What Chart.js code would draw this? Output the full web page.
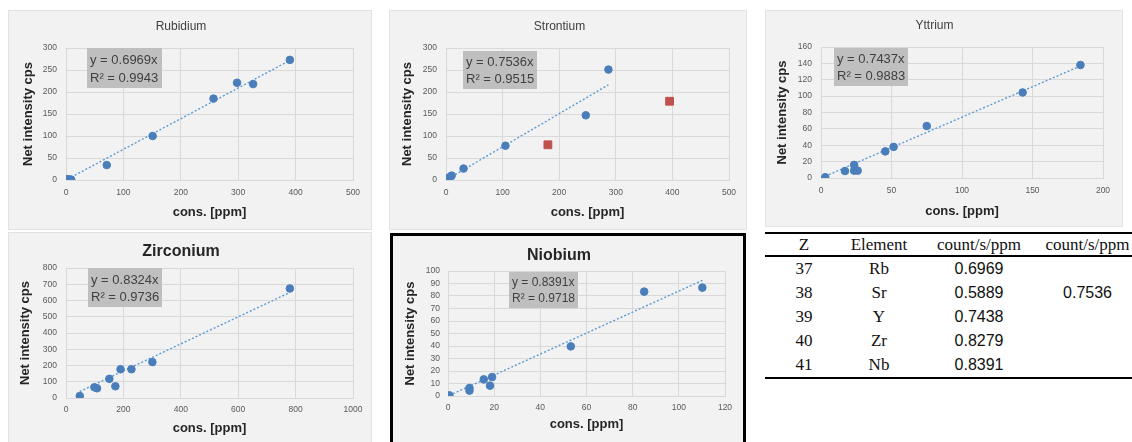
<!DOCTYPE html>
<html>
<head>
<meta charset="utf-8">
<script src="https://cdn.jsdelivr.net/npm/chart.js@4.4.0/dist/chart.umd.min.js"></script>
<style>
  body { margin: 0; background: #fff; width: 1132px; height: 442px; overflow: hidden; position: relative; }
  .panel { position: absolute; background: #f2f2f2; border: 1px solid #e2e2e2; box-sizing: border-box; }
  .panel.boxed { border: 3px solid #000; }
  .panel canvas { display: block; }
  table.coef { position: absolute; left: 765px; top: 232px; width: 367px; border-collapse: collapse;
    border-top: 2px solid #000; border-bottom: 2px solid #000;
    font-family: "Liberation Serif", "Times New Roman", serif; font-size: 17px; color: #111; table-layout: fixed; }
  table.coef th { font-weight: normal; height: 21px; padding: 0; border-bottom: 2px solid #000; }
  table.coef td { height: 24px; padding: 0; text-align: center; }
  table.coef td.num { font-family: "Liberation Sans", Arial, sans-serif; font-size: 16px; }
</style>
</head>
<body>

<div class="panel" id="pRb" style="left:8px;top:10px;width:364px;height:220px"><canvas id="cRb"></canvas></div>
<div class="panel" id="pSr" style="left:389px;top:10px;width:358px;height:220px"><canvas id="cSr"></canvas></div>
<div class="panel" id="pY" style="left:765px;top:10px;width:358px;height:217px"><canvas id="cY"></canvas></div>
<div class="panel" id="pZr" style="left:8px;top:232px;width:364px;height:212px"><canvas id="cZr"></canvas></div>
<div class="panel boxed" id="pNb" style="left:390px;top:233px;width:356px;height:214px"><canvas id="cNb"></canvas></div>

<table class="coef" id="coefTable">
  <colgroup><col style="width:78px"><col style="width:72px"><col style="width:128px"><col style="width:89px"></colgroup>
  <thead><tr><th>Z</th><th>Element</th><th>count/s/ppm</th><th>count/s/ppm</th></tr></thead>
  <tbody></tbody>
</table>

<script>
// calibration data
var rbX = [2, 6, 9, 71, 151, 257, 298, 326, 390];
var rbY = [2, 1, 1, 34, 100, 185, 221, 218, 273];
var rbTrend = [[3, 2.1], [390, 271.8]];

var srX = [2, 5, 8, 10, 31, 105, 247, 287];
var srY = [3, 5, 8, 10, 26, 78, 147, 251];
var srOutX = [180, 395];
var srOutY = [80, 179];
var srTrend = [[4, 3.0], [287, 216.3]];

var yX = [3, 17, 23.5, 23.5, 26, 45.6, 51.5, 75, 143, 184];
var yY = [1, 8.5, 16, 9, 9, 32.5, 38, 63.5, 104.5, 138];
var yTrend = [[3, 2.2], [184, 136.8]];

var zrX = [48, 99, 108, 151, 172, 190, 228, 301, 780];
var zrY = [12, 66, 60, 118, 72, 177, 177, 221, 674];
var zrTrend = [[48, 40], [780, 649.3]];

var nbX = [0.6, 9.3, 9.3, 15.5, 18.2, 19.1, 53.2, 85, 110.2];
var nbY = [0.5, 6.4, 4.3, 13.3, 8.3, 15.2, 39.7, 83.5, 86.7];
var nbTrend = [[0.6, 0.5], [110.2, 92.5]];

// fit labels shown on the charts
var eqSlopes = ['0.6969', '0.7536', '0.7437', '0.8324', '0.8391'];
var eqR2 = ['0.9943', '0.9515', '0.9883', '0.9736', '0.9718'];

// table
var tblZ = [37, 38, 39, 40, 41];
var tblElement = ['Rb', 'Sr', 'Y', 'Zr', 'Nb'];
var tblCoef = ['0.6969', '0.5889', '0.7438', '0.8279', '0.8391'];
var tblCoef2 = ['', '0.7536', '', '', ''];

var SANS = '"Liberation Sans", Arial, sans-serif';
var BLUE = '#4a7ebb';
var TREND = '#5b9bd5';

function toPts(xs, ys) {
    return xs.map(function (x, i) { return { x: x, y: ys[i] }; });
}
function plainTick(v) { return String(v); }

// draws the grey equation box, offsets relative to the chart area
var eqBoxPlugin = {
    id: 'eqBox',
    beforeDatasetsDraw: function (chart, args, opts) {
        if (!opts || !opts.lines) return;
        var ctx = chart.ctx;
        var a = chart.chartArea;
        var x = a.left + opts.dx, y = a.top + opts.dy;
        ctx.save();
        ctx.fillStyle = '#bfbfbf';
        ctx.fillRect(x, y, opts.w, opts.h);
        ctx.fillStyle = '#404040';
        ctx.font = opts.size + 'px ' + SANS;
        ctx.textBaseline = 'middle';
        ctx.fillText(opts.lines[0], x + 3, y + opts.h * 0.31);
        ctx.fillText(opts.lines[1], x + 3, y + opts.h * 0.75);
        ctx.restore();
    }
};

function makeChart(id, g, datasets, xr, yr, eq) {
    var panel = document.getElementById('p' + id);
    var bw = panel.classList.contains('boxed') ? 3 : 1;
    var cx = panel.offsetLeft + bw, cy = panel.offsetTop + bw;
    var cw = panel.clientWidth, ch = panel.clientHeight;
    var canvas = document.getElementById('c' + id);
    canvas.width = cw; canvas.height = ch;

    var tLh = g.titleSize * 1.2;
    var axLh = 13 * 1.2;
    var tickLh = 8.5 * 1.2;
    var xH = g.xTitleY - g.b + axLh / 2;

    return new Chart(canvas, {
        type: 'scatter',
        data: { datasets: datasets },
        plugins: [eqBoxPlugin],
        options: {
            responsive: false,
            animation: false,
            layout: { padding: { left: 0, top: 0, right: cx + cw - g.r, bottom: cy + ch - g.b - xH } },
            scales: {
                x: {
                    type: 'linear', min: xr[0], max: xr[1],
                    ticks: { stepSize: xr[2], autoSkip: false, maxRotation: 0, callback: plainTick, color: '#595959',
                        font: { family: SANS, size: 8.5 }, padding: g.xTickY - g.b - tickLh / 2 },
                    grid: { color: '#d9d9d9', drawTicks: false },
                    border: { color: '#d9d9d9' },
                    title: { display: true, text: 'cons. [ppm]', color: '#262626', font: { family: SANS, size: 13, weight: 'bold' }, padding: 0 },
                    afterFit: function (s) { s.height = xH; }
                },
                y: {
                    type: 'linear', min: yr[0], max: yr[1],
                    ticks: { stepSize: yr[2], autoSkip: false, callback: plainTick, color: '#595959',
                        font: { family: SANS, size: 8.5 }, padding: g.l - g.yTickRight },
                    grid: { color: '#d9d9d9', drawTicks: false },
                    border: { display: false },
                    title: { display: true, text: 'Net intensity cps', color: '#262626', font: { family: SANS, size: 13, weight: 'bold' },
                        padding: { top: g.yTitleX - cx - axLh / 2, bottom: 0 } },
                    afterFit: function (s) { s.width = g.l - cx; }
                }
            },
            plugins: {
                legend: { display: false },
                tooltip: { enabled: false },
                title: {
                    display: true, text: g.title, color: g.titleBold ? '#262626' : '#404040',
                    font: { family: SANS, size: g.titleSize, weight: g.titleBold ? 'bold' : 'normal' },
                    padding: { top: g.titleY - cy - tLh / 2, bottom: g.t - g.titleY - tLh / 2 }
                },
                eqBox: eq
            }
        }
    });
}

function pointSet(xs, ys) {
    return { data: toPts(xs, ys), backgroundColor: BLUE, borderColor: BLUE, pointRadius: 3.8, pointHoverRadius: 3.8 };
}
function trendSet(t) {
    return {
        type: 'line', data: t.map(function (p) { return { x: p[0], y: p[1] }; }),
        borderColor: TREND, borderWidth: 1.4, borderDash: [2, 2], pointRadius: 0, fill: false
    };
}
function eqOpts(i, dx, dy, w, h, size) {
    return { lines: ['y = ' + eqSlopes[i] + 'x', 'R\u00b2 = ' + eqR2[i]], dx: dx, dy: dy, w: w, h: h, size: size };
}

document.addEventListener('DOMContentLoaded', function () {
    makeChart('Rb',
        { title: 'Rubidium', titleSize: 12, titleBold: false, l: 66, r: 353, t: 48, b: 180, titleY: 27, xTickY: 193, xTitleY: 212, yTitleX: 28, yTickRight: 57 },
        [pointSet(rbX, rbY), trendSet(rbTrend)], [0, 500, 100], [0, 300, 50], eqOpts(0, 21, 0, 75, 40, 13));

    var srOut = { data: toPts(srOutX, srOutY), backgroundColor: '#c0504d', borderColor: '#c0504d', pointStyle: 'rect', pointRadius: 5.5 };
    makeChart('Sr',
        { title: 'Strontium', titleSize: 12, titleBold: false, l: 446, r: 729, t: 48, b: 180, titleY: 27, xTickY: 193, xTitleY: 212, yTitleX: 407, yTickRight: 437 },
        [pointSet(srX, srY), srOut, trendSet(srTrend)], [0, 500, 100], [0, 300, 50], eqOpts(1, 17, 3, 74, 38, 13));

    makeChart('Y',
        { title: 'Yttrium', titleSize: 12, titleBold: false, l: 821, r: 1103, t: 47, b: 178, titleY: 26, xTickY: 191, xTitleY: 211, yTitleX: 782, yTickRight: 812 },
        [pointSet(yX, yY), trendSet(yTrend)], [0, 200, 50], [0, 160, 20], eqOpts(2, 13, 1, 74, 38, 13));

    makeChart('Zr',
        { title: 'Zirconium', titleSize: 16, titleBold: true, l: 66, r: 353, t: 268, b: 398, titleY: 252, xTickY: 410, xTitleY: 428, yTitleX: 25, yTickRight: 57 },
        [pointSet(zrX, zrY), trendSet(zrTrend)], [0, 1000, 200], [0, 800, 100], eqOpts(3, 22, 0, 74, 39, 13));

    makeChart('Nb',
        { title: 'Niobium', titleSize: 16, titleBold: true, l: 448, r: 725, t: 271, b: 396, titleY: 256, xTickY: 408, xTitleY: 424, yTitleX: 410, yTickRight: 440 },
        [pointSet(nbX, nbY), trendSet(nbTrend)], [0, 120, 20], [0, 100, 10], eqOpts(4, 61, 1, 69, 36, 12));

    // coefficient table
    var body = document.querySelector('#coefTable tbody');
    tblZ.forEach(function (z, i) {
        var tr = document.createElement('tr');
        tr.innerHTML = '<td>' + z + '</td><td>' + tblElement[i] + '</td><td class="num">' + tblCoef[i] + '</td><td class="num">' + tblCoef2[i] + '</td>';
        body.appendChild(tr);
    });
});
</script>
</body>
</html>
